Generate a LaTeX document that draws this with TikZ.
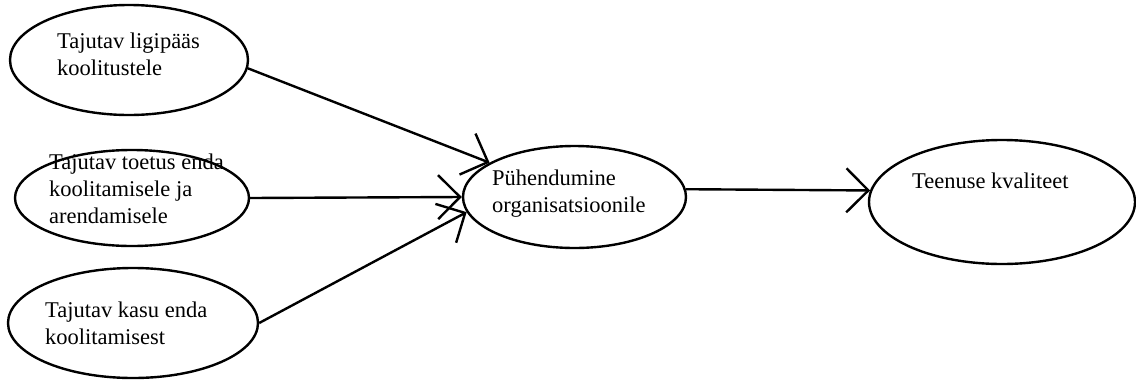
\documentclass[tikz,border=0pt]{standalone}
\usepackage{fontspec}
\setmainfont{Liberation Serif}
\usetikzlibrary{shapes.geometric,arrows.meta}
\begin{document}
\begin{tikzpicture}[x=1pt,y=-1pt,
  ell/.style={draw,ellipse,line width=2.4pt,inner sep=0pt},
  lbl/.style={anchor=base west,align=left,inner sep=0pt,font=\fontsize{22.5}{27}\selectfont},
  arr/.style={line width=2.4pt,-{Straight Barb[length=22pt,width=44pt,line width=2.4pt]}}]
\useasboundingbox (0,0) rectangle (1136,381);
\node[ell,minimum width=238pt,minimum height=110pt] (e1) at (129,60) {};
\node[ell,minimum width=234pt,minimum height=96pt] (e2) at (132,198) {};
\node[ell,minimum width=250pt,minimum height=110pt] (e3) at (133,323) {};
\node[ell,minimum width=223pt,minimum height=102pt] (e4) at (574.5,197) {};
\node[ell,minimum width=266pt,minimum height=124pt] (e5) at (1002,202) {};
\node[lbl] (t1) at (57,75) {Tajutav ligipääs\\koolitustele};
\node[lbl] (t2) at (49,223) {Tajutav toetus enda\\koolitamisele ja\\arendamisele};
\node[lbl] (t3) at (45,344) {Tajutav kasu enda\\koolitamisest};
\node[lbl] (t4) at (492,212) {Pühendumine\\organisatsioonile};
\node[lbl] (t5) at (912,188) {Teenuse kvaliteet};
\draw[arr] (e1.-4) -- (e4.158);
\draw[arr] (e2.east) -- (e4.west);
\draw[arr] (e3.east) -- (e4.188);
\draw[arr] (e4.4) -- (e5.175);
\end{tikzpicture}
\end{document}
